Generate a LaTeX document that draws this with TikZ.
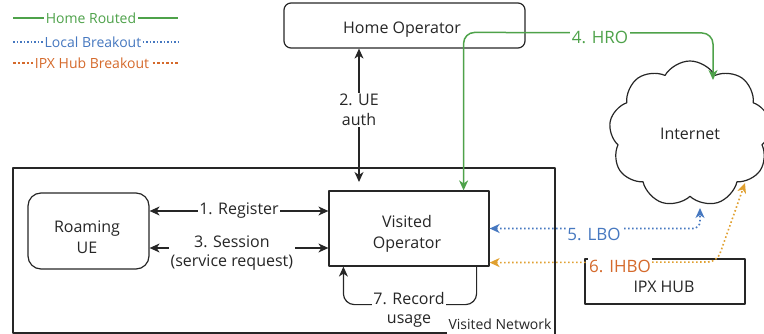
\documentclass[tikz,border=0pt]{standalone}
\usepackage{fontspec}
\setmainfont{Open Sans}
\usetikzlibrary{arrows.meta,shapes.symbols,calc}
\definecolor{hrogreen}{HTML}{4EA24A}
\definecolor{lboblue}{HTML}{4678C0}
\definecolor{ihboline}{HTML}{E0A030}
\definecolor{ihbotext}{HTML}{D56A2C}
\definecolor{boxline}{HTML}{262626}
\begin{document}
\begin{tikzpicture}[x=1pt,y=-1pt,line join=round,
  >={Stealth[length=10pt,width=9pt,inset=3pt]},
  box/.style={draw=boxline,line width=1.2pt,inner sep=0pt},
  boxtext/.style={align=center,font=\fontsize{16}{21}\selectfont,text=boxline,inner sep=0pt},
  blk/.style={draw=boxline,line width=1.2pt},
  lbl/.style={fill=white,inner sep=1.5pt,align=center,font=\fontsize{16}{19.5}\selectfont,text=boxline},
  clbl/.style={fill=white,inner sep=1.5pt,font=\fontsize{17}{20}\selectfont},
  hro/.style={draw=hrogreen,line width=1.5pt},
  lbo/.style={draw=lboblue,line width=1.6pt,dash pattern=on 1.6pt off 2.4pt},
  ihbo/.style={draw=ihboline,line width=1.6pt,dash pattern=on 1.6pt off 2.4pt},
  leg/.style={fill=white,inner sep=2pt,font=\fontsize{14}{16}\selectfont}
]
\useasboundingbox (0,0) rectangle (764,334);

% legend
\coordinate (lg1a) at (13,18);  \coordinate (lg1b) at (178,18);
\coordinate (lg2a) at (13,42);  \coordinate (lg2b) at (178,42);
\coordinate (lg3a) at (13,63);  \coordinate (lg3b) at (178,63);
\draw[hro] (lg1a) -- (lg1b);
\draw[lbo,line width=1.3pt,dash pattern=on 1.5pt off 2pt] (lg2a) -- (lg2b);
\draw[draw=ihbotext,line width=1.3pt,dash pattern=on 2.5pt off 2pt] (lg3a) -- (lg3b);
\node[leg,text=hrogreen] (legh) at (91,18) {Home Routed};
\node[leg,text=lboblue] (legl) at (93,42) {Local Breakout};
\node[leg,text=ihbotext] (legi) at (92,63) {IPX Hub Breakout};

% visited network container
\draw[blk] (447,333) -- (13,333) -- (13,168) -- (555,168) -- (555,334);
\node[font=\fontsize{14}{16}\selectfont,text=boxline,inner sep=1pt] (vnet) at (500,324) {Visited Network};

% boxes
\node[box,rounded corners=7pt,minimum width=241pt,minimum height=45pt] (ho) at (404.5,25.5) {};
\node[boxtext] (hot) at (402,30) {Home Operator};
\node[box,rounded corners=13pt,minimum width=121pt,minimum height=76pt] (ue) at (88.5,231) {};
\node[boxtext] (uet) at (87,237) {Roaming\\UE};
\node[box,minimum width=160pt,minimum height=75pt] (vo) at (409,228.5) {};
\node[boxtext] (vot) at (407,234) {Visited\\Operator};
\node[box,minimum width=160pt,minimum height=45pt] (ipx) at (665,281.5) {};
\node[boxtext] (ipxt) at (664,287) {IPX HUB};
\node[cloud,draw=boxline,line width=1.2pt,cloud puffs=9,cloud puff arc=120,aspect=1.05,
      minimum width=162pt,minimum height=146pt,font=\fontsize{16}{19}\selectfont,text=boxline] (inet) at (690,134) {Internet};

% free ends
\coordinate (authend) at (359,182);
\coordinate (hroend) at (713,80);
\coordinate (lboend) at (700,208);
\coordinate (ihboend) at (745,183);

% black connectors
\draw[blk,<->] (ue.east |- 0,211) -- node[lbl,pos=0.5]{1. Register} (vo.west |- 0,211);
\draw[blk,<->] (ue.east |- 0,248) -- node[lbl,pos=0.46,yshift=-5pt]{3. Session\\(service request)} (vo.west |- 0,248);
\draw[blk,<->] (ho.south -| authend) -- node[lbl,pos=0.46]{2. UE\\auth} (authend);
\draw[blk,->,rounded corners=11pt] ($(vo.south east)+(-13,0)$) -- ++(0,38) -- ($(vo.south west)+(15,38)$) -- ($(vo.south west)+(15,0)$);
\node[lbl] (rec) at (409,310) {7. Record\\usage};

% green HRO
\draw[hro,<->,rounded corners=11pt] ($(vo.north east)+(-26,0)$) -- ($(vo.north east)+(-26,-158)$) -- (hroend |- 0,33) -- (hroend);
\node[clbl,text=hrogreen] (hrol) at (600,37) {4. HRO};

% blue LBO
\draw[lbo,<->,rounded corners=7pt] (vo.east) -- (lboend |- vo.east) -- (lboend);
\node[clbl,text=lboblue] (lbol) at (594,234) {5. LBO};

% orange IHBO
\draw[ihbo,<->,rounded corners=9pt] ($(vo.south east)+(0,-4)$) -- (717,262) -- (ihboend);
\node[clbl,text=ihbotext] (ihbol) at (620,266) {6. IHBO};
\end{tikzpicture}
\end{document}
